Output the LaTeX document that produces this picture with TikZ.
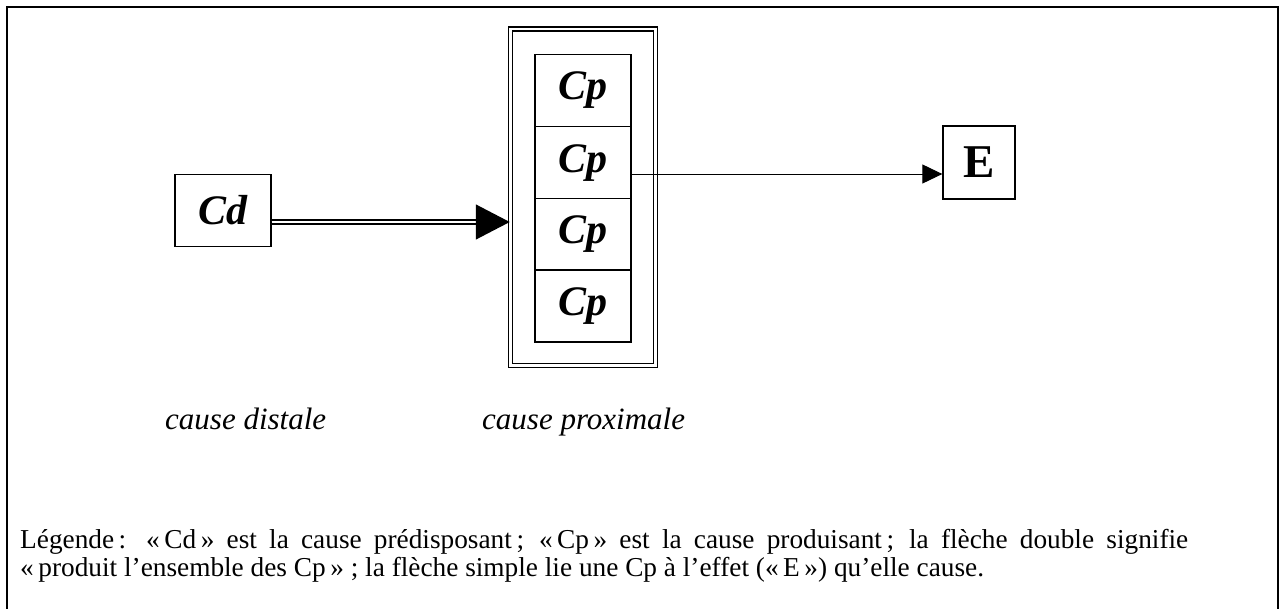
\documentclass[tikz,border=0pt]{standalone}
\usepackage{fontspec}
\setmainfont{Liberation Serif}
\usetikzlibrary{arrows.meta}
\begin{document}
\begin{tikzpicture}[x=1pt,y=-1pt,
  box/.style={draw, line width=1.3pt, inner sep=0pt},
  cbox/.style={box, minimum width=96pt, minimum height=72pt, font=\fontsize{42}{48}\selectfont\bfseries\itshape},
  ebox/.style={box, minimum width=72pt, minimum height=73pt, font=\fontsize{47}{54}\selectfont\bfseries},
  framebox/.style={draw, double, line width=1.5pt, double distance=2.6pt, minimum width=145pt, minimum height=336.5pt, inner sep=0pt},
  dblarrow/.style={double, double distance=2.4pt, line width=1.4pt, -{Triangle[length=34pt,width=35pt]}},
  sglarrow/.style={line width=1pt, -{Triangle[length=20pt,width=19pt]}},
  caption/.style={inner sep=0pt, font=\fontsize{31}{36}\selectfont\itshape},
  legend/.style={inner sep=0pt, font=\fontsize{27.3}{31}\selectfont}]
\useasboundingbox (0,0) rectangle (1280,608);
\draw[line width=2pt] (7,615) -- (7,7) -- (1278,7) -- (1278,615);

\node[cbox] (cd) at (223,210.5) {Cd};
\node[framebox] (frame) at (583,197.2) {};
\node[cbox] (cp1) at (583,90.5) {Cp};
\node[cbox] (cp2) at (583,162.7) {Cp};
\node[cbox] (cp3) at (583,234.4) {Cp};
\node[cbox] (cp4) at (583,306) {Cp};
\node[ebox] (e) at (979,162.5) {E};

\draw[dblarrow] ([yshift=-11.5pt]cd.east) -- ([yshift=-11.5pt]cd.east -| frame.west);
\draw[sglarrow] ([yshift=-11.3pt]cp2.east) -- ([yshift=-11.3pt]cp2.east -| e.west);

\node[caption, anchor=base west] (cdl) at (165,429) {cause distale};
\node[caption, anchor=base west] (cpl) at (482,429) {cause proximale};

\node[legend, anchor=base west] (l1) at (20,548) {\makebox[1168pt][s]{Légende\,: «\,Cd\,» est la cause prédisposant\,; «\,Cp\,» est la cause produisant\,; la flèche double signifie}};
\node[legend, anchor=base west] (l2) at (20,576) {«\,produit l’ensemble des Cp\,» ; la flèche simple lie une Cp à l’effet («\,E\,») qu’elle cause.};
\end{tikzpicture}
\end{document}
